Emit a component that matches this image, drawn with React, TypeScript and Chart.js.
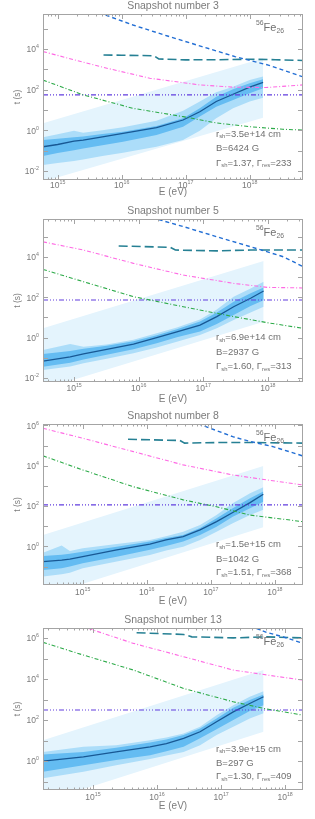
import React, { useEffect, useRef } from 'react';
import { Chart, registerables } from 'chart.js';
Chart.register(...registerables);

// ---------- annotations / labels ----------
const snapshotNumbers = [3, 5, 8, 13];
const rShock = ['3.5e+14', '6.9e+14', '1.5e+15', '3.9e+15'];
const bField = ['6424', '2937', '1042', '297'];
const gammaSh = ['1.37', '1.60', '1.51', '1.30'];
const gammaRes = ['233', '313', '368', '409'];

// ---------- axes ----------
const xRanges = [[5.9e14, 6.8e18], [3.3e14, 3.5e18], [2.4e14, 2.75e18], [1.66e14, 1.9e18]];
const yRanges = [[3.6e-3, 5.2e5], [6.3e-3, 7.6e5], [1.23e-2, 1.17e6], [3.9e-2, 3.1e6]];
const xTickLabels = [1e15, 1e16, 1e17, 1e18];
const yTickLabels = [[1e-2, 1, 1e2, 1e4], [1e-2, 1, 1e2, 1e4], [1, 1e2, 1e4, 1e6], [1, 1e2, 1e4, 1e6]];

// ---------- panel 1 (snapshot 3) ----------
const p1E = [5.9e14, 1e15, 1.8e15, 2.5e15, 5e15, 1.05e16, 3.5e16, 9.1e16, 1.66e17, 3e17, 5.5e17, 1e18, 1.62e18];
const p1Median = [0.155, 0.2, 0.29, 0.33, 0.48, 0.71, 1.35, 3.2, 8.1, 26, 59, 132, 229];
const p1DarkHi = [0.33, 0.38, 0.45, 0.49, 0.65, 0.85, 1.62, 3.9, 12, 45, 105, 204, 324];
const p1DarkLo = [0.055, 0.076, 0.105, 0.129, 0.186, 0.275, 0.59, 1.51, 4.7, 14.5, 31, 66, 117];
const p1MidHi = [0.46, 0.63, 0.95, 0.76, 1.0, 1.41, 2.95, 9.1, 26, 74, 138, 295, 437];
const p1MidLo = [0.0195, 0.0245, 0.031, 0.037, 0.054, 0.079, 0.155, 0.33, 0.95, 3.9, 12, 26, 40];
const p1WideE = [5.9e14, 1.62e18];
const p1WideHi = [2.2, 3470];
const p1WideLo = [0.003, 4.2];
const p1BlueE = [3.5e15, 1.5e16, 5.2e16, 1.8e17, 5.9e17, 1.95e18, 6.8e18];
const p1BlueT = [7.9e5, 1.5e5, 4.3e4, 1.3e4, 4200, 1600, 420];
const p1TealE = [5.2e15, 1e16, 3.2e16, 3.8e16, 1e17, 3.2e17, 1e18, 2.5e18, 6.8e18];
const p1TealT = [5000, 4900, 4600, 3200, 2900, 2950, 3100, 2950, 2700];
const p1MagE = [5.9e14, 4.6e15, 2.75e16, 1.66e17, 5.5e17, 1.8e18, 6.8e18];
const p1MagT = [7400, 1350, 363, 170, 132, 126, 170];
const p1GreenE = [5.9e14, 2.5e15, 1.5e16, 9.1e16, 3e17, 1e18, 3.3e18, 6.8e18];
const p1GreenT = [295, 55, 12, 4.7, 2.3, 1.5, 1.12, 1.02];
const p1Purple = 55;

// ---------- panel 2 (snapshot 5) ----------
const p2E = [3.3e14, 8.7e14, 1.4e15, 3.2e15, 8.3e15, 1.9e16, 3.9e16, 8.9e16, 1.62e17, 2.95e17, 5.4e17, 8.6e17];
const p2Median = [0.069, 0.11, 0.155, 0.26, 0.48, 1.0, 1.95, 4.2, 11, 34, 89, 204];
const p2DarkHi = [0.155, 0.22, 0.28, 0.4, 0.66, 1.32, 2.6, 6.3, 17.8, 60, 158, 309];
const p2DarkLo = [0.036, 0.057, 0.083, 0.141, 0.263, 0.52, 1.05, 2.0, 4.7, 13.2, 37, 72];
const p2MidHi = [0.245, 0.48, 0.355, 0.45, 0.79, 1.66, 3.2, 7.9, 25, 107, 275, 590];
const p2MidLo = [0.0245, 0.037, 0.054, 0.089, 0.166, 0.32, 0.63, 1.35, 2.9, 7.4, 17.4, 34];
const p2WideE = [3.3e14, 8.6e17];
const p2WideHi = [2.9, 6300];
const p2WideLo = [0.0028, 6.2];
const p2BlueE = [1.26e16, 4.9e16, 1.62e17, 5.4e17, 1.74e18, 3.5e18];
const p2BlueT = [1.1e6, 3.2e5, 1e5, 3.2e4, 1.02e4, 3300];
const p2TealE = [4.9e15, 3.1e16, 3.7e16, 1.62e17, 5.4e17, 3.5e18];
const p2TealT = [3.5e4, 3e4, 2.2e4, 2e4, 2.2e4, 2.2e4];
const p2MagE = [3.3e14, 1.4e15, 8.3e15, 4.9e16, 2.95e17, 9.8e17, 3.5e18];
const p2MagT = [5.6e4, 2.2e4, 4800, 1260, 490, 310, 290];
const p2GreenE = [3.3e14, 1.4e15, 8.3e15, 4.9e16, 2.95e17, 9.8e17, 3.5e18];
const p2GreenT = [2400, 590, 107, 34, 11, 5.5, 2.9];
const p2Purple = 73;

// ---------- panel 3 (snapshot 8) ----------
const p3E = [2.4e14, 4.7e14, 6.3e14, 1e15, 3.4e15, 1.12e16, 2e16, 3.7e16, 6.8e16, 1.23e17, 2.2e17, 4.1e17, 6.6e17];
const p3Median = [0.178, 0.21, 0.234, 0.31, 0.68, 1.32, 2.1, 3.1, 6.6, 17, 48, 148, 389];
const p3DarkHi = [0.34, 0.39, 0.43, 0.55, 0.98, 1.74, 2.6, 3.7, 8.3, 25, 78, 245, 525];
const p3DarkLo = [0.068, 0.083, 0.102, 0.148, 0.31, 0.68, 1.05, 1.74, 3.7, 9.5, 30, 78, 166];
const p3MidHi = [0.49, 1.12, 0.6, 0.81, 1.32, 2.1, 3.2, 5.4, 11.7, 36, 138, 437, 870];
const p3MidLo = [0.032, 0.042, 0.05, 0.083, 0.178, 0.38, 0.63, 0.98, 2.1, 5.4, 14, 36, 65];
const p3WideE = [2.4e14, 6.6e17];
const p3WideHi = [3.7, 9800];
const p3WideLo = [0.0034, 8.9];
const p3BlueE = [5e16, 1.23e17, 2.2e17, 4.1e17, 9.3e17, 2.7e18];
const p3BlueT = [1.6e6, 5.5e5, 2.75e5, 1.6e5, 8.9e4, 3.1e4];
const p3TealE = [5.1e15, 3.3e16, 3.9e16, 1.23e17, 5e17, 2.7e18];
const p3TealT = [2.04e5, 1.78e5, 1.32e5, 1.41e5, 1.41e5, 1.32e5];
const p3MagE = [2.4e14, 1e15, 6.2e15, 3.7e16, 2.2e17, 7.4e17, 2.7e18];
const p3MagT = [7.2e5, 2.3e5, 5e4, 1.1e4, 3500, 2000, 1120];
const p3GreenE = [2.4e14, 1e15, 6.2e15, 3.7e16, 1.23e17, 4.1e17, 2.7e18];
const p3GreenT = [3.1e4, 6200, 910, 204, 93, 36, 17];
const p3Purple = 115;

// ---------- panel 4 (snapshot 13) ----------
const p4E = [1.66e14, 7.1e14, 2.3e15, 7.8e15, 1.4e16, 2.6e16, 4.7e16, 8.5e16, 1.55e17, 2.8e17, 4.6e17];
const p4Median = [1.0, 1.62, 2.8, 5.0, 7.2, 12.9, 27, 83, 251, 646, 1380];
const p4DarkHi = [2.1, 2.8, 4.5, 8.1, 11.2, 18.6, 39, 120, 398, 955, 1780];
const p4DarkLo = [0.3, 0.63, 1.12, 1.95, 3.0, 5.0, 12.9, 36, 100, 275, 537];
const p4MidHi = [2.8, 5.0, 6.0, 10.5, 14.1, 22, 47, 174, 537, 1380, 2570];
const p4MidLo = [0.145, 0.3, 0.63, 1.26, 1.9, 2.8, 6.0, 18.6, 47, 120, 214];
const p4WideE = [1.66e14, 4.6e17];
const p4WideHi = [10.5, 27500];
const p4WideLo = [0.0102, 27];
const p4BlueE = [2.8e17, 5.1e17, 9.3e17, 1.9e18];
const p4BlueT = [4e6, 1.9e6, 1.15e6, 5.5e5];
const p4TealE = [4.8e15, 2.6e16, 3.5e16, 1.55e17, 5.1e17, 1.9e18];
const p4TealT = [1.82e6, 1.5e6, 1.15e6, 1.02e6, 1.15e6, 1.02e6];
const p4MagE = [6.3e14, 4.3e15, 2.6e16, 1.55e17, 5.1e17, 1.9e18];
const p4MagT = [4e6, 5.5e5, 1.23e5, 2.75e4, 1.6e4, 8900];
const p4GreenE = [1.66e14, 7.1e14, 4.3e15, 2.6e16, 1.55e17, 5.1e17, 1.9e18];
const p4GreenT = [6.2e5, 1.48e5, 2.75e4, 3500, 780, 350, 174];
const p4Purple = 310;

// ---------- assemble ----------
const panelData = [
  { E: p1E, med: p1Median, dHi: p1DarkHi, dLo: p1DarkLo, mHi: p1MidHi, mLo: p1MidLo, wE: p1WideE, wHi: p1WideHi, wLo: p1WideLo, bE: p1BlueE, bT: p1BlueT, tE: p1TealE, tT: p1TealT, mgE: p1MagE, mgT: p1MagT, gE: p1GreenE, gT: p1GreenT, pu: p1Purple },
  { E: p2E, med: p2Median, dHi: p2DarkHi, dLo: p2DarkLo, mHi: p2MidHi, mLo: p2MidLo, wE: p2WideE, wHi: p2WideHi, wLo: p2WideLo, bE: p2BlueE, bT: p2BlueT, tE: p2TealE, tT: p2TealT, mgE: p2MagE, mgT: p2MagT, gE: p2GreenE, gT: p2GreenT, pu: p2Purple },
  { E: p3E, med: p3Median, dHi: p3DarkHi, dLo: p3DarkLo, mHi: p3MidHi, mLo: p3MidLo, wE: p3WideE, wHi: p3WideHi, wLo: p3WideLo, bE: p3BlueE, bT: p3BlueT, tE: p3TealE, tT: p3TealT, mgE: p3MagE, mgT: p3MagT, gE: p3GreenE, gT: p3GreenT, pu: p3Purple },
  { E: p4E, med: p4Median, dHi: p4DarkHi, dLo: p4DarkLo, mHi: p4MidHi, mLo: p4MidLo, wE: p4WideE, wHi: p4WideHi, wLo: p4WideLo, bE: p4BlueE, bT: p4BlueT, tE: p4TealE, tT: p4TealT, mgE: p4MagE, mgT: p4MagT, gE: p4GreenE, gT: p4GreenT, pu: p4Purple },
];

// ---------- layout (page pixels) ----------
const W = 315;
const canvasTop = [0, 200, 405, 608];
const canvasH = [200, 205, 203, 211];
const plotTop = [14, 219, 424, 628];
const plotBottom = [180, 382, 585, 790];
const xLabelOff = [5.5, 6.5, 7.5, 7.5];
const xTitleOff = [12.5, 17, 16.5, 16.5];
const infoOff = [[-46, -31.5, -17], [-44.3, -29.3, -15.3], [-40.7, -26, -12.3], [-41, -26.7, -13.3]];

const FONT = '"Liberation Sans", Arial, sans-serif';
const C_LIGHT = 'rgb(228,244,253)';
const C_MID = 'rgb(172,221,249)';
const C_DARK = 'rgb(100,188,242)';
const C_MED = 'rgb(24,88,148)';
const C_BLUE = 'rgb(34,110,212)';
const C_TEAL = 'rgb(38,128,148)';
const C_MAG = 'rgb(255,105,228)';
const C_GREEN = 'rgb(44,170,72)';
const C_PURPLE = 'rgb(96,60,222)';

type Part = [string, 'n' | 'sub' | 'sup'];

function drawRich(ctx: CanvasRenderingContext2D, parts: Part[], x: number, y: number, size: number, align: 'left' | 'center' | 'right') {
  const small = size * 0.62;
  const widths = parts.map(([t, k]) => {
    ctx.font = `${k === 'n' ? size : small}px ${FONT}`;
    return ctx.measureText(t).width;
  });
  const total = widths.reduce((a, b) => a + b, 0);
  let cx = align === 'left' ? x : align === 'center' ? x - total / 2 : x - total;
  ctx.textAlign = 'left';
  ctx.textBaseline = 'middle';
  parts.forEach(([t, k], i) => {
    ctx.font = `${k === 'n' ? size : small}px ${FONT}`;
    const dy = k === 'sub' ? size * 0.3 : k === 'sup' ? -size * 0.38 : 0;
    ctx.fillText(t, cx, y + dy);
    cx += widths[i];
  });
}

function decorPlugin(i: number) {
  return {
    id: 'decor' + i,
    afterDraw(chart: any) {
      const ctx: CanvasRenderingContext2D = chart.ctx;
      const { left, right, top, bottom } = chart.chartArea;
      const xs = chart.scales.x;
      const ys = chart.scales.y;
      ctx.save();
      // frame
      ctx.strokeStyle = '#a4a4a4';
      ctx.lineWidth = 1;
      ctx.strokeRect(left + 0.5, top + 0.5, right - left - 1, bottom - top - 1);
      // x ticks (inward, top and bottom)
      ctx.beginPath();
      const xlo = Math.floor(Math.log10(xs.min));
      const xhi = Math.ceil(Math.log10(xs.max));
      for (let d = xlo; d <= xhi; d++) {
        for (let k = 1; k <= 9; k++) {
          const v = k * Math.pow(10, d);
          if (v < xs.min || v > xs.max) continue;
          const px = Math.round(xs.getPixelForValue(v)) + 0.5;
          const len = k === 1 ? 5 : 2.5;
          ctx.moveTo(px, bottom); ctx.lineTo(px, bottom - len);
          ctx.moveTo(px, top); ctx.lineTo(px, top + len);
        }
      }
      const ylo = Math.floor(Math.log10(ys.min));
      const yhi = Math.ceil(Math.log10(ys.max));
      for (let d = ylo; d <= yhi; d++) {
        const v = Math.pow(10, d);
        if (v < ys.min || v > ys.max) continue;
        const py = Math.round(ys.getPixelForValue(v)) + 0.5;
        ctx.moveTo(left, py); ctx.lineTo(left + 5, py);
        ctx.moveTo(right, py); ctx.lineTo(right - 5, py);
      }
      ctx.stroke();

      // tick labels
      ctx.fillStyle = '#7a7a7a';
      xTickLabels.forEach((v) => {
        if (v < xs.min || v > xs.max) return;
        const px = xs.getPixelForValue(v);
        drawRich(ctx, [['10', 'n'], [String(Math.round(Math.log10(v))), 'sup']], px, bottom + xLabelOff[i], 8.5, 'center');
      });
      yTickLabels[i].forEach((v) => {
        if (v < ys.min || v > ys.max) return;
        const py = ys.getPixelForValue(v);
        drawRich(ctx, [['10', 'n'], [String(Math.round(Math.log10(v))), 'sup']], left - 4, py + 1, 8.5, 'right');
      });

      // titles
      ctx.fillStyle = '#7c7c7c';
      ctx.font = `10.5px ${FONT}`;
      ctx.textAlign = 'center';
      ctx.textBaseline = 'middle';
      ctx.fillText(`Snapshot number ${snapshotNumbers[i]}`, (left + right) / 2, top - 7.5);
      ctx.font = `10px ${FONT}`;
      ctx.fillText('E (eV)', (left + right) / 2, bottom + xTitleOff[i]);
      ctx.save();
      ctx.translate(18, (top + bottom) / 2);
      ctx.rotate(-Math.PI / 2);
      ctx.font = `8.5px ${FONT}`;
      ctx.fillText('t (s)', 0, 0);
      ctx.restore();

      // species label
      ctx.fillStyle = '#707070';
      drawRich(ctx, [['56', 'sup'], ['Fe', 'n'], ['26', 'sub']], 256, top + 13.5, 11, 'left');

      // parameter text
      const o = infoOff[i];
      drawRich(ctx, [['r', 'n'], ['sh', 'sub'], [`=${rShock[i]} cm`, 'n']], 216, bottom + o[0], 9.5, 'left');
      drawRich(ctx, [[`B=${bField[i]} G`, 'n']], 216, bottom + o[1], 9.5, 'left');
      drawRich(ctx, [['Γ', 'n'], ['sh', 'sub'], [`=${gammaSh[i]}, `, 'n'], ['Γ', 'n'], ['res', 'sub'], [`=${gammaRes[i]}`, 'n']], 216, bottom + o[2], 9.5, 'left');
      ctx.restore();
    },
  };
}

const pts = (xv: number[], yv: number[]) => xv.map((x, k) => ({ x, y: yv[k] }));

function buildDatasets(i: number) {
  const p = panelData[i];
  const xr = xRanges[i];
  const line = (data: any, color: string, width: number, dash: number[]) => ({
    data, borderColor: color, borderWidth: width, borderDash: dash, fill: false, pointRadius: 0, tension: 0,
  });
  const band = (data: any, color: string | undefined, fillIt: boolean) => ({
    data, borderWidth: 0, borderColor: 'rgba(0,0,0,0)', backgroundColor: color || 'rgba(0,0,0,0)', fill: fillIt ? '+1' : false, pointRadius: 0, tension: 0,
  });
  return [
    line(pts(p.bE, p.bT), C_BLUE, 1.4, [4, 3]),
    line(pts(p.tE, p.tT), C_TEAL, 1.6, [9, 4]),
    line(pts(p.mgE, p.mgT), C_MAG, 1.1, [4, 2, 1, 2]),
    line(pts(p.gE, p.gT), C_GREEN, 1.1, [4, 2, 1, 2]),
    line(pts(xr, [p.pu, p.pu]), C_PURPLE, 1.1, [5, 2, 1, 2, 1, 2, 1, 2]),
    line(pts(p.E, p.med), C_MED, 1.3, []),
    band(pts(p.E, p.dHi), C_DARK, true),
    band(pts(p.E, p.dLo), undefined, false),
    band(pts(p.E, p.mHi), C_MID, true),
    band(pts(p.E, p.mLo), undefined, false),
    band(pts(p.wE, p.wHi), C_LIGHT, true),
    band(pts(p.wE, p.wLo), undefined, false),
  ];
}

function PanelChart({ i }: { i: number }) {
  const ref = useRef<HTMLCanvasElement | null>(null);
  useEffect(() => {
    if (!ref.current) return;
    const chart = new Chart(ref.current, {
      type: 'line',
      data: { datasets: buildDatasets(i) as any },
      options: {
        animation: false,
        responsive: false,
        devicePixelRatio: 1,
        events: [],
        layout: {
          padding: {
            left: 43,
            right: W - 303,
            top: plotTop[i] - canvasTop[i],
            bottom: canvasTop[i] + canvasH[i] - plotBottom[i],
          },
        },
        scales: {
          x: { type: 'logarithmic', min: xRanges[i][0], max: xRanges[i][1], display: false },
          y: { type: 'logarithmic', min: yRanges[i][0], max: yRanges[i][1], display: false },
        },
        plugins: {
          legend: { display: false },
          tooltip: { enabled: false },
          title: { display: false },
        },
      } as any,
      plugins: [decorPlugin(i)],
    });
    return () => chart.destroy();
  }, [i]);
  return (
    <canvas
      ref={ref}
      width={W}
      height={canvasH[i]}
      style={{ position: 'absolute', left: 0, top: canvasTop[i], width: W, height: canvasH[i] }}
    />
  );
}

export default function App() {
  return (
    <div style={{ position: 'absolute', left: 0, top: 0, width: W, height: 819, background: '#ffffff' }}>
      {[0, 1, 2, 3].map((i) => (
        <PanelChart key={i} i={i} />
      ))}
    </div>
  );
}
